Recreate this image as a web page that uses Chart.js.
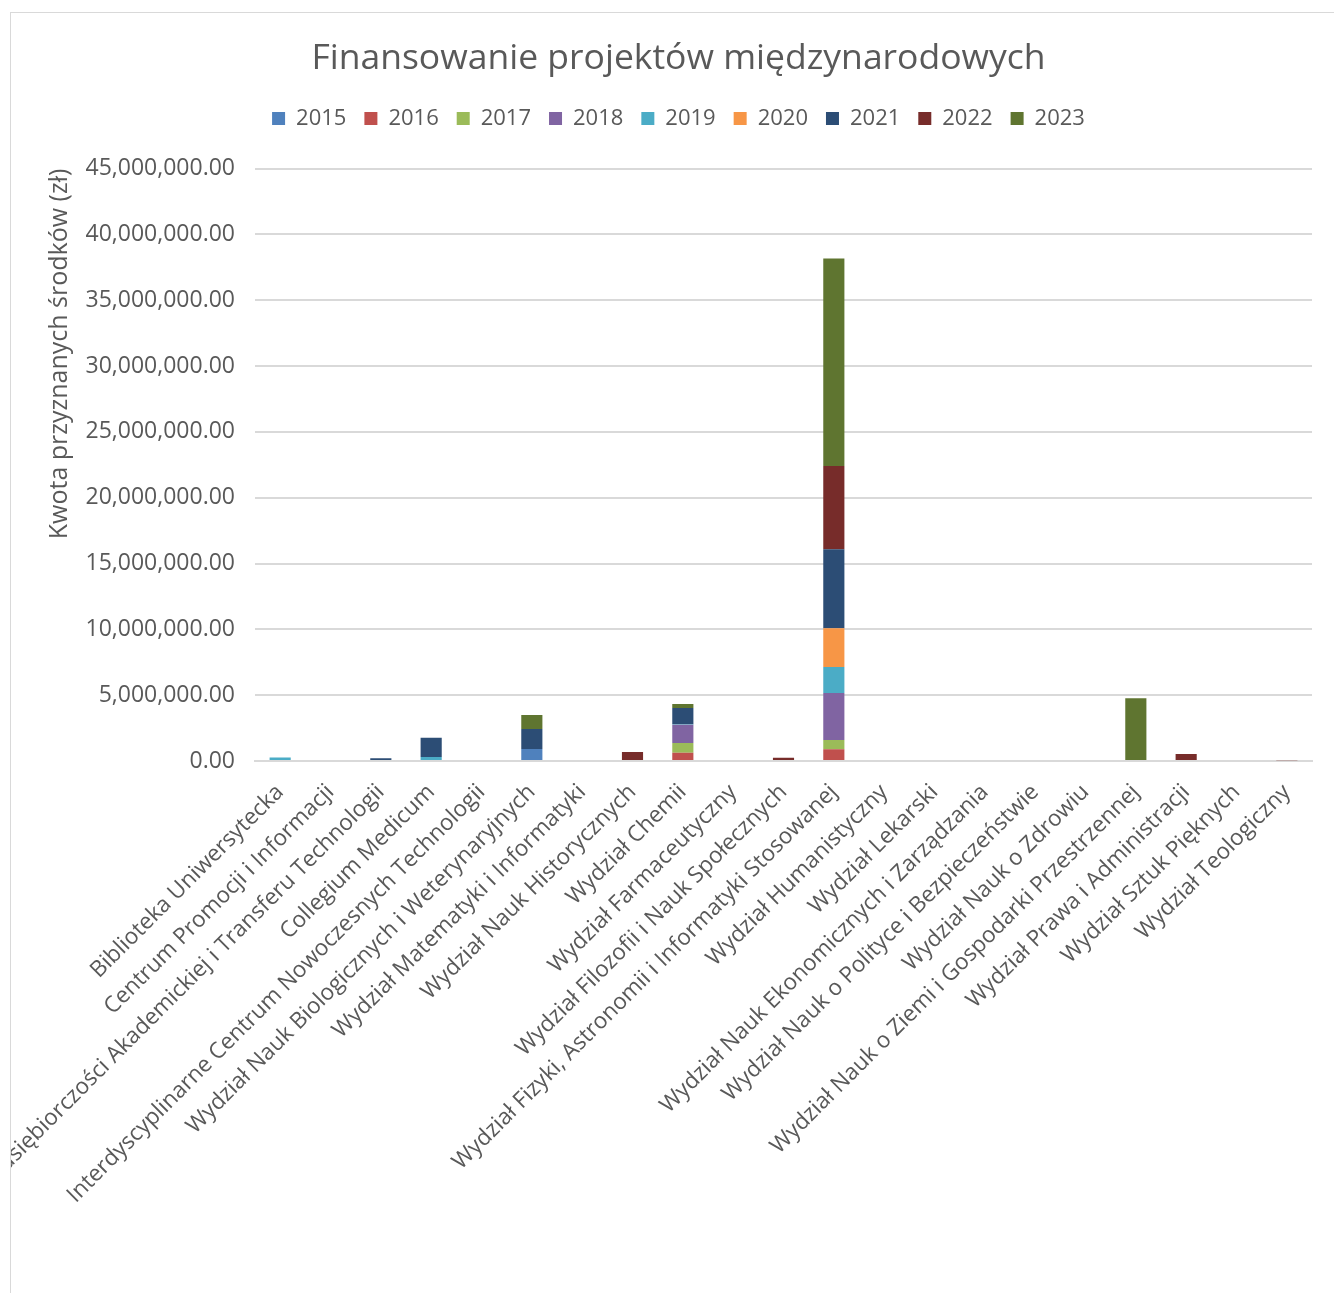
<!DOCTYPE html>
<html>
<head>
<meta charset="utf-8">
<script src="https://cdn.jsdelivr.net/npm/chart.js"></script>
<style>
  html, body { margin: 0; padding: 0; background: #fff; }
  #frame {
    position: absolute; left: 10px; top: 12px;
    width: 1330px; height: 1290px;
    border-left: 1px solid #d9d9d9; border-top: 1px solid #d9d9d9;
  }
  #wrap { position: absolute; left: 0; top: 0; width: 1323px; height: 1280px; }
</style>
</head>
<body>
<div id="frame"><div id="wrap"><canvas id="chart"></canvas></div></div>
<script>
// == Data ==
const units = [
  "Biblioteka Uniwersytecka",
  "Centrum Promocji i Informacji",
  "Centrum Przedsiębiorczości Akademickiej i Transferu Technologii",
  "Collegium Medicum",
  "Interdyscyplinarne Centrum Nowoczesnych Technologii",
  "Wydział Nauk Biologicznych i Weterynaryjnych",
  "Wydział Matematyki i Informatyki",
  "Wydział Nauk Historycznych",
  "Wydział Chemii",
  "Wydział Farmaceutyczny",
  "Wydział Filozofii i Nauk Społecznych",
  "Wydział Fizyki, Astronomii i Informatyki Stosowanej",
  "Wydział Humanistyczny",
  "Wydział Lekarski",
  "Wydział Nauk Ekonomicznych i Zarządzania",
  "Wydział Nauk o Polityce i Bezpieczeństwie",
  "Wydział Nauk o Zdrowiu",
  "Wydział Nauk o Ziemi i Gospodarki Przestrzennej",
  "Wydział Prawa i Administracji",
  "Wydział Sztuk Pięknych",
  "Wydział Teologiczny"
];

const years = ["2015", "2016", "2017", "2018", "2019", "2020", "2021", "2022", "2023"];

const v2015 = [0, 0, 0, 0, 0, 910000, 0, 0, 0, 0, 0, 0, 0, 0, 0, 0, 0, 0, 0, 0, 0];
const v2016 = [0, 0, 0, 0, 0, 0, 0, 0, 630000, 0, 0, 890000, 0, 0, 0, 0, 0, 0, 0, 0, 0];
const v2017 = [0, 0, 0, 0, 0, 0, 0, 0, 730000, 0, 0, 700000, 0, 0, 0, 0, 0, 0, 0, 0, 0];
const v2018 = [0, 0, 0, 0, 0, 0, 0, 0, 1390000, 0, 0, 3580000, 0, 0, 0, 0, 0, 0, 0, 0, 0];
const v2019 = [270000, 0, 0, 300000, 0, 0, 0, 0, 50000, 0, 0, 1970000, 0, 0, 0, 0, 0, 0, 0, 0, 0];
const v2020 = [0, 0, 0, 0, 0, 0, 0, 0, 0, 0, 0, 2950000, 0, 0, 0, 0, 0, 0, 0, 0, 0];
const v2021 = [0, 0, 200000, 1470000, 0, 1520000, 0, 0, 1230000, 0, 0, 6000000, 0, 0, 0, 0, 0, 0, 0, 0, 0];
const v2022 = [0, 0, 0, 0, 0, 0, 0, 680000, 0, 0, 250000, 6310000, 0, 0, 0, 0, 0, 0, 530000, 0, 50000];
const v2023 = [0, 0, 0, 0, 0, 1060000, 0, 0, 300000, 0, 0, 15780000, 0, 0, 0, 0, 0, 4770000, 0, 0, 0];

const yearColors = ["#4f81bd", "#c0504d", "#9bbb59", "#8064a2", "#4bacc6", "#f79646", "#2c4d75", "#772c2a", "#5f7530"];

// == Chart ==
const series = [v2015, v2016, v2017, v2018, v2019, v2020, v2021, v2022, v2023];
const textColor = "#595959";
const fontFamily = "'Open Sans', 'Noto Sans', sans-serif";

const datasets = years.map((y, i) => ({
  label: y,
  data: series[i],
  backgroundColor: yearColors[i],
  borderWidth: 0,
  barPercentage: 0.42,
  categoryPercentage: 1.0
}));

// extra room under the legend
const legendGap = {
  id: "legendGap",
  beforeInit(chart) {
    const fit = chart.legend.fit;
    chart.legend.fit = function () {
      fit.call(this);
      this.height += 29;
    };
  }
};

new Chart(document.getElementById("chart"), {
  type: "bar",
  data: { labels: units, datasets: datasets },
  plugins: [legendGap],
  options: {
    responsive: true,
    maintainAspectRatio: false,
    animation: false,
    layout: { padding: { left: 34, right: 22, top: 0, bottom: 0 } },
    plugins: {
      title: {
        display: true,
        text: "Finansowanie projektów międzynarodowych",
        color: textColor,
        font: { family: fontFamily, size: 35.5, weight: "normal" },
        padding: { top: 25, bottom: 9 }
      },
      legend: {
        position: "top",
        labels: {
          color: textColor,
          font: { family: fontFamily, size: 22 },
          boxWidth: 13,
          boxHeight: 13,
          padding: 18
        }
      },
      tooltip: { enabled: false }
    },
    scales: {
      x: {
        stacked: true,
        grid: { display: false },
        border: { color: "#d9d9d9", width: 2 },
        ticks: {
          color: textColor,
          font: { family: fontFamily, size: 22.5 },
          maxRotation: 45,
          minRotation: 45,
          padding: 10,
          autoSkip: false
        },
        afterFit: (scale) => { scale.height = 1280 - 748; }
      },
      y: {
        stacked: true,
        min: 0,
        max: 45000000,
        border: { display: false },
        grid: { color: "#d9d9d9", lineWidth: 2, drawTicks: false },
        ticks: {
          stepSize: 5000000,
          color: textColor,
          padding: 20,
          font: { family: fontFamily, size: 23 },
          callback: (v) => Number(v).toLocaleString("en-US", { minimumFractionDigits: 2, maximumFractionDigits: 2 })
        },
        title: {
          display: true,
          text: "Kwota przyznanych środków (zł)",
          align: "end",
          color: textColor,
          font: { family: fontFamily, size: 25 },
          padding: { top: 0, bottom: 0 }
        },
        afterFit: (scale) => { scale.width = 210; }
      }
    }
  }
});
</script>
</body>
</html>
